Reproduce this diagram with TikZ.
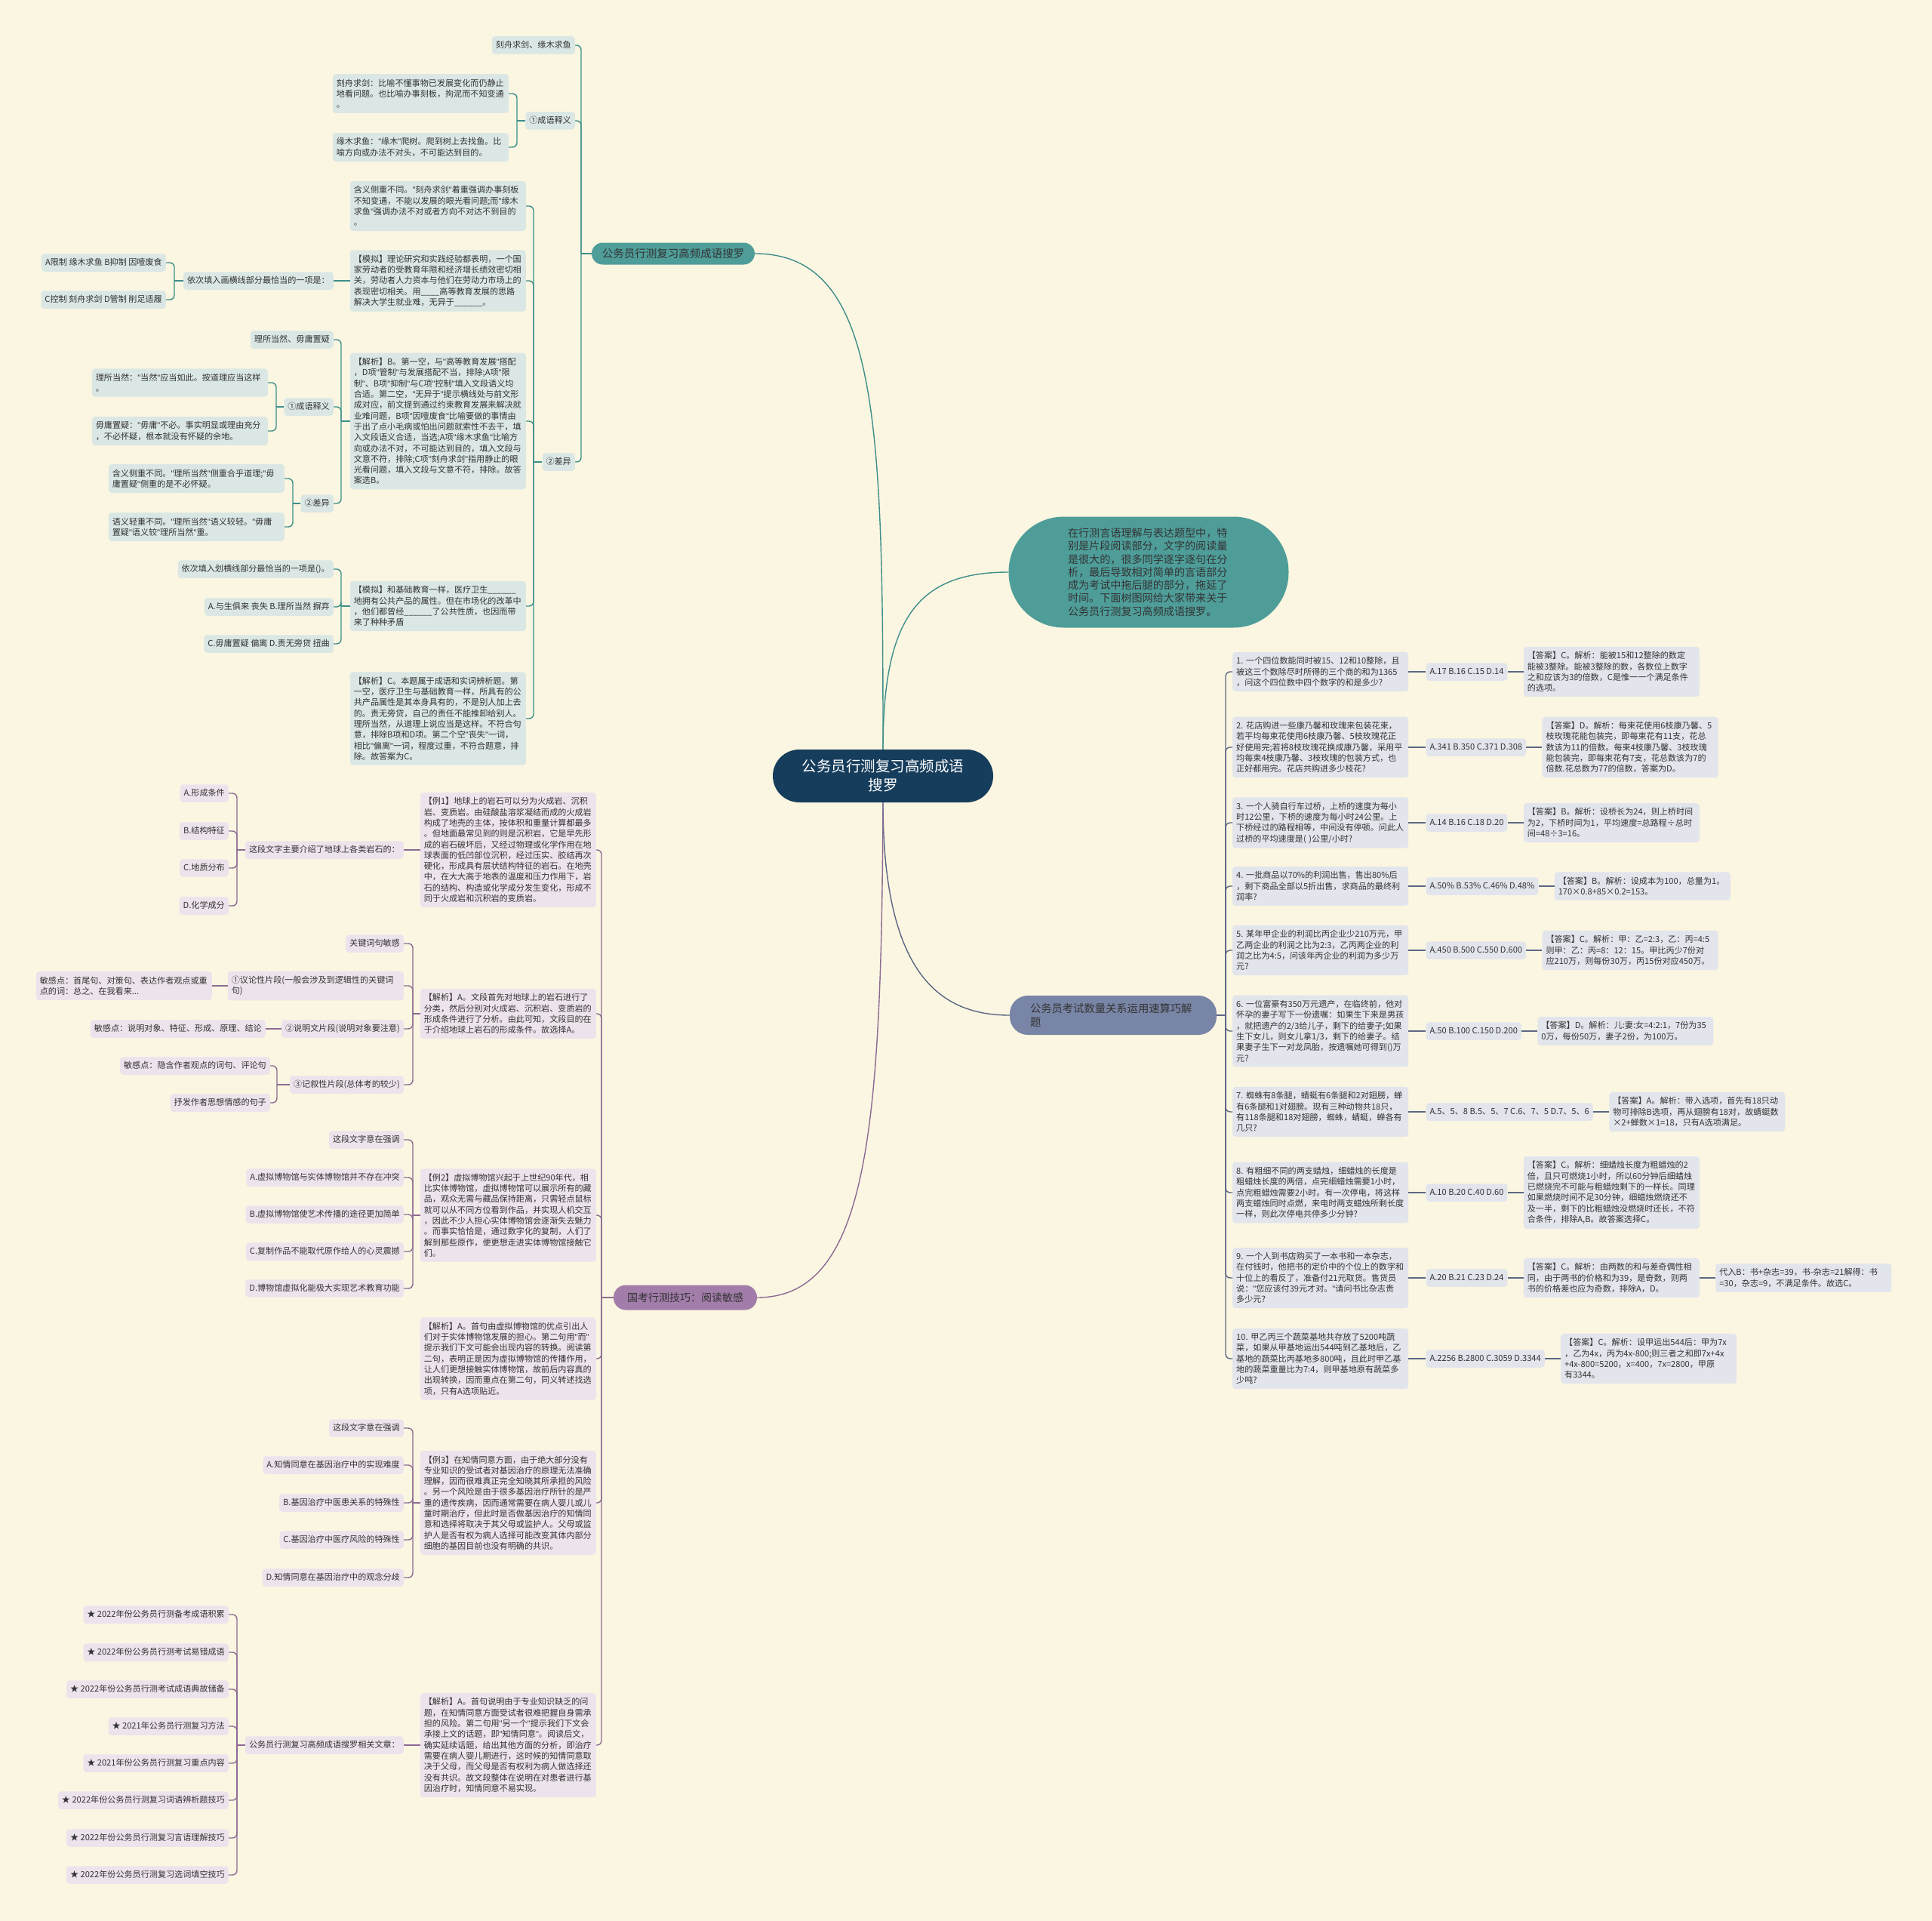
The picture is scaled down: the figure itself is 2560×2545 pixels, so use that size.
\documentclass[tikz,border=0pt]{standalone}
\usepackage{fontspec}
\setmainfont{Noto Sans CJK SC}
\newfontfamily\latf{Liberation Sans}
\newcommand\dq{{\latf"}}
\usetikzlibrary{positioning}
\definecolor{bg}{HTML}{FBF6E1}
\definecolor{txt}{HTML}{333333}
\definecolor{navy}{HTML}{173D5C}
\definecolor{tealM}{HTML}{4E9D99}
\definecolor{tealL}{HTML}{DAE7E5}
\definecolor{tealLn}{HTML}{3E8E8B}
\definecolor{purM}{HTML}{A27DAA}
\definecolor{purL}{HTML}{EDE3EC}
\definecolor{purLn}{HTML}{8C6A94}
\definecolor{slaM}{HTML}{7885A6}
\definecolor{slaL}{HTML}{E2E5EC}
\definecolor{slaLn}{HTML}{5B6784}
\tikzset{
 leaf/.style={font=\fontsize{11.1}{14.3}\selectfont, text=txt, inner xsep=5pt, inner ysep=5pt, rounded corners=4pt},
 tl/.style={leaf, fill=tealL},
 pl/.style={leaf, fill=purL},
 sl/.style={leaf, fill=slaL},
 wide/.style={text width=223pt, align=left, inner ysep=6.5pt},
 one/.style={text height=10pt, text depth=3.5pt},
 tln/.style={draw=tealLn, line width=1.4pt},
 pln/.style={draw=purLn, line width=1.4pt},
 sln/.style={draw=slaLn, line width=1.4pt},
}
\newcommand\brkL[4]{\coordinate (bxp) at (#3,0); \draw[#1] (#2.west) -- (#2.west -| bxp) coordinate (jn); \foreach \ch in {#4} {\draw[#1,rounded corners=6pt] (jn) |- (\ch.east);}}
\newcommand\brkR[4]{\coordinate (bxp) at (#3,0); \draw[#1] (#2.east) -- (#2.east -| bxp) coordinate (jn); \foreach \ch in {#4} {\draw[#1,rounded corners=6pt] (jn) |- (\ch.west);}}
\begin{document}
\begin{tikzpicture}[x=1pt,y=-1pt]
\useasboundingbox (0,0) rectangle (2560,2545);
\fill[bg] (0,0) rectangle (2560,2545);

% central and main branches
\node[fill=navy, text=white, font=\fontsize{19.5}{25}\selectfont, align=center, rounded corners=35pt, minimum width=292pt, minimum height=70pt, inner sep=0pt] (c) at (1170,1028) {公务员行测复习高频成语\\搜罗};
\node[fill=tealM, text=txt, font=\fontsize{14.5}{17}\selectfont, rounded corners=14.5pt, minimum width=216pt, minimum height=29pt, inner sep=0pt] (tb) at (892,336) {公务员行测复习高频成语搜罗};
\node[fill=tealM, text=txt, font=\fontsize{14.1}{17.3}\selectfont, text width=214pt, align=left, rounded corners=73pt, minimum width=371pt, minimum height=147pt] (tbig) at (1522,758) {在行测言语理解与表达题型中，特\\别是片段阅读部分，文字的阅读量\\是很大的，很多同学逐字逐句在分\\析，最后导致相对简单的言语部分\\成为考试中拖后腿的部分，拖延了\\时间。下面树图网给大家带来关于\\公务员行测复习高频成语搜罗。};
\node[fill=slaM, text=txt, font=\fontsize{14.3}{17.5}\selectfont, text width=220pt, align=left, rounded corners=24pt, minimum width=274pt, minimum height=52pt] (sb) at (1475,1345) {公务员考试数量关系运用速算巧解\\题};
\node[fill=purM, text=txt, font=\fontsize{14}{17}\selectfont, rounded corners=16pt, minimum width=190pt, minimum height=33pt, inner sep=0pt] (pb) at (908,1719) {国考行测技巧：阅读敏感};

\draw[tln] (c.north) .. controls (1170,560) and (1165,336) .. (tb.east);
\draw[tln] (c.north) .. controls (1170,820) and (1215,758) .. (tbig.west);
\draw[sln] (c.south) .. controls (1170,1290) and (1245,1345) .. (sb.west);
\draw[pln] (c.south) .. controls (1168,1500) and (1150,1719) .. (pb.east);

% ---------- teal branch ----------
\node[tl,one,anchor=east] (t1) at (762,60) {刻舟求剑、缘木求鱼};
\node[tl,one,anchor=east] (t2) at (762,160) {①成语释义};
\node[tl,one,anchor=east] (t3) at (762,612) {②差异};
\node[tl,wide,anchor=east] (t21) at (674,124) {刻舟求剑：比喻不懂事物已发展变化而仍静止\\地看问题。也比喻办事刻板，拘泥而不知变通\\。};
\node[tl,wide,anchor=east] (t22) at (674,195) {缘木求鱼：\dq{}缘木\dq{}爬树。爬到树上去找鱼。比\\喻方向或办法不对头，不可能达到目的。};
\node[tl,wide,anchor=east] (t31) at (697,273) {含义侧重不同。\dq{}刻舟求剑\dq{}着重强调办事刻板\\不知变通，不能以发展的眼光看问题;而\dq{}缘木\\求鱼\dq{}强调办法不对或者方向不对达不到目的\\。};
\node[tl,wide,anchor=east] (t32) at (697,372) {【模拟】理论研究和实践经验都表明，一个国\\家劳动者的受教育年限和经济增长绩效密切相\\关，劳动者人力资本与他们在劳动力市场上的\\表现密切相关。用\_\_\_\_高等教育发展的思路\\解决大学生就业难，无异于\_\_\_\_\_\_。};
\node[tl,wide,anchor=east] (t33) at (697,558) {【解析】B。第一空，与\dq{}高等教育发展\dq{}搭配\\，D项\dq{}管制\dq{}与发展搭配不当，排除;A项\dq{}限\\制\dq{}、B项\dq{}抑制\dq{}与C项\dq{}控制\dq{}填入文段语义均\\合适。第二空，\dq{}无异于\dq{}提示横线处与前文形\\成对应，前文提到通过约束教育发展来解决就\\业难问题，B项\dq{}因噎废食\dq{}比喻要做的事情由\\于出了点小毛病或怕出问题就索性不去干，填\\入文段语义合适，当选;A项\dq{}缘木求鱼\dq{}比喻方\\向或办法不对，不可能达到目的，填入文段与\\文意不符，排除;C项\dq{}刻舟求剑\dq{}指用静止的眼\\光看问题，填入文段与文意不符，排除。故答\\案选B。};
\node[tl,wide,anchor=east] (t34) at (697,803) {【模拟】和基础教育一样，医疗卫生\_\_\_\_\_\_\\地拥有公共产品的属性。但在市场化的改革中\\，他们都曾经\_\_\_\_\_\_了公共性质，也因而带\\来了种种矛盾};
\node[tl,wide,anchor=east] (t35) at (697,952) {【解析】C。本题属于成语和实词辨析题。第\\一空，医疗卫生与基础教育一样，所具有的公\\共产品属性是其本身具有的，不是别人加上去\\的。责无旁贷，自己的责任不能推卸给别人。\\理所当然，从道理上说应当是这样。不符合句\\意，排除B项和D项。第二个空\dq{}丧失\dq{}一词，\\相比\dq{}偏离\dq{}一词，程度过重，不符合题意，排\\除。故答案为C。};
\node[tl,one,anchor=east] (t321) at (442,372) {依次填入画横线部分最恰当的一项是：};
\node[tl,one,anchor=east] (t3211) at (220,348) {A限制 缘木求鱼 B抑制 因噎废食};
\node[tl,one,anchor=east] (t3212) at (220,397) {C控制 刻舟求剑 D管制 削足适履};
\node[tl,one,anchor=east] (t331) at (442,450) {理所当然、毋庸置疑};
\node[tl,one,anchor=east] (t332) at (442,539) {①成语释义};
\node[tl,one,anchor=east] (t333) at (442,667) {②差异};
\node[tl,wide,anchor=east] (t3321) at (355,507) {理所当然：\dq{}当然\dq{}应当如此。按道理应当这样\\。};
\node[tl,wide,anchor=east] (t3322) at (355,571) {毋庸置疑：\dq{}毋庸\dq{}不必。事实明显或理由充分\\，不必怀疑，根本就没有怀疑的余地。};
\node[tl,wide,anchor=east] (t3331) at (377,634) {含义侧重不同。\dq{}理所当然\dq{}侧重合乎道理;\dq{}毋\\庸置疑\dq{}侧重的是不必怀疑。};
\node[tl,wide,anchor=east] (t3332) at (377,698) {语义轻重不同。\dq{}理所当然\dq{}语义较轻。\dq{}毋庸\\置疑\dq{}语义较\dq{}理所当然\dq{}重。};
\node[tl,one,anchor=east] (t341) at (442,754) {依次填入划横线部分最恰当的一项是()。};
\node[tl,one,anchor=east] (t342) at (442,804) {A.与生俱来 丧失 B.理所当然 摒弃};
\node[tl,one,anchor=east] (t343) at (442,853) {C.毋庸置疑 偏离 D.责无旁贷 扭曲};

\brkL{tln}{tb}{770}{t1,t2,t3}
\brkL{tln}{t2}{685}{t21,t22}
\brkL{tln}{t3}{707}{t31,t32,t33,t34,t35}
\draw[tln] (t32.west) -- (t321.east);
\brkL{tln}{t321}{231}{t3211,t3212}
\brkL{tln}{t33}{452}{t331,t332,t333}
\brkL{tln}{t332}{366}{t3321,t3322}
\brkL{tln}{t333}{388}{t3331,t3332}
\brkL{tln}{t34}{452}{t341,t342,t343}

% ---------- purple branch ----------
\node[pl,wide,anchor=east] (p1) at (790,1126) {【例1】地球上的岩石可以分为火成岩、沉积\\岩、变质岩。由硅酸盐溶浆凝结而成的火成岩\\构成了地壳的主体，按体积和重量计算都最多\\。但地面最常见到的则是沉积岩，它是早先形\\成的岩石破坏后，又经过物理或化学作用在地\\球表面的低凹部位沉积，经过压实、胶结再次\\硬化，形成具有层状结构特征的岩石。在地壳\\中，在大大高于地表的温度和压力作用下，岩\\石的结构、构造或化学成分发生变化，形成不\\同于火成岩和沉积岩的变质岩。};
\node[pl,wide,anchor=east] (p2) at (790,1343) {【解析】A。文段首先对地球上的岩石进行了\\分类，然后分别对火成岩、沉积岩、变质岩的\\形成条件进行了分析。由此可知，文段目的在\\于介绍地球上岩石的形成条件。故选择A。};
\node[pl,wide,anchor=east] (p3) at (790,1610) {【例2】虚拟博物馆兴起于上世纪90年代，相\\比实体博物馆，虚拟博物馆可以展示所有的藏\\品，观众无需与藏品保持距离，只需轻点鼠标\\就可以从不同方位看到作品，并实现人机交互\\，因此不少人担心实体博物馆会逐渐失去魅力\\。而事实恰恰是，通过数字化的复制，人们了\\解到那些原作，便更想走进实体博物馆接触它\\们。};
\node[pl,wide,anchor=east] (p4) at (790,1800) {【解析】A。首句由虚拟博物馆的优点引出人\\们对于实体博物馆发展的担心。第二句用\dq{}而\dq{}\\提示我们下文可能会出现内容的转换。阅读第\\二句，表明正是因为虚拟博物馆的传播作用，\\让人们更想接触实体博物馆，故前后内容真的\\出现转换，因而重点在第二句，同义转述找选\\项，只有A选项贴近。};
\node[pl,wide,anchor=east] (p5) at (790,1991) {【例3】在知情同意方面，由于绝大部分没有\\专业知识的受试者对基因治疗的原理无法准确\\理解，因而很难真正完全知晓其所承担的风险\\。另一个风险是由于很多基因治疗所针的是严\\重的遗传疾病，因而通常需要在病人婴儿或儿\\童时期治疗，但此时是否做基因治疗的知情同\\意和选择将取决于其父母或监护人。父母或监\\护人是否有权为病人选择可能改变其体内部分\\细胞的基因目前也没有明确的共识。};
\node[pl,wide,anchor=east] (p6) at (790,2312) {【解析】A。首句说明由于专业知识缺乏的问\\题，在知情同意方面受试者很难把握自身需承\\担的风险。第二句用\dq{}另一个\dq{}提示我们下文会\\承接上文的话题，即\dq{}知情同意\dq{}。阅读后文，\\确实延续话题，给出其他方面的分析，即治疗\\需要在病人婴儿期进行，这时候的知情同意取\\决于父母，而父母是否有权利为病人做选择还\\没有共识。故文段整体在说明在对患者进行基\\因治疗时，知情同意不易实现。};

\node[pl,one,anchor=east] (p11) at (535,1126) {这段文字主要介绍了地球上各类岩石的：};
\node[pl,one,anchor=east] (p111) at (303,1051) {A.形成条件};
\node[pl,one,anchor=east] (p112) at (303,1101) {B.结构特征};
\node[pl,one,anchor=east] (p113) at (303,1150) {C.地质分布};
\node[pl,one,anchor=east] (p114) at (303,1200) {D.化学成分};

\node[pl,one,anchor=east] (p21) at (535,1250) {关键词句敏感};
\node[pl,wide,anchor=east] (p22) at (535,1306) {①议论性片段(一般会涉及到逻辑性的关键词\\句)};
\node[pl,wide,anchor=east] (p221) at (281,1306) {敏感点：首尾句、对策句、表达作者观点或重\\点的词：总之、在我看来...};
\node[pl,one,anchor=east] (p23) at (535,1363) {②说明文片段(说明对象要注意)};
\node[pl,one,anchor=east] (p231) at (352,1363) {敏感点：说明对象、特征、形成、原理、结论};
\node[pl,one,anchor=east] (p24) at (535,1437) {③记叙性片段(总体考的较少)};
\node[pl,one,anchor=east] (p241) at (358,1412) {敏感点：隐含作者观点的词句、评论句};
\node[pl,one,anchor=east] (p242) at (358,1461) {抒发作者思想情感的句子};

\node[pl,one,anchor=east] (p31) at (535,1510) {这段文字意在强调};
\node[pl,one,anchor=east] (p32) at (535,1560) {A.虚拟博物馆与实体博物馆并不存在冲突};
\node[pl,one,anchor=east] (p33) at (535,1609) {B.虚拟博物馆使艺术传播的途径更加简单};
\node[pl,one,anchor=east] (p34) at (535,1658) {C.复制作品不能取代原作给人的心灵震撼};
\node[pl,one,anchor=east] (p35) at (535,1707) {D.博物馆虚拟化能极大实现艺术教育功能};

\node[pl,one,anchor=east] (p51) at (535,1892) {这段文字意在强调};
\node[pl,one,anchor=east] (p52) at (535,1941) {A.知情同意在基因治疗中的实现难度};
\node[pl,one,anchor=east] (p53) at (535,1991) {B.基因治疗中医患关系的特殊性};
\node[pl,one,anchor=east] (p54) at (535,2040) {C.基因治疗中医疗风险的特殊性};
\node[pl,one,anchor=east] (p55) at (535,2090) {D.知情同意在基因治疗中的观念分歧};

\node[pl,one,anchor=east] (p61) at (535,2312) {公务员行测复习高频成语搜罗相关文章：};
\node[pl,one,anchor=east] (p611) at (303,2139) {★ 2022年份公务员行测备考成语积累};
\node[pl,one,anchor=east] (p612) at (303,2189) {★ 2022年份公务员行测考试易错成语};
\node[pl,one,anchor=east] (p613) at (303,2238) {★ 2022年份公务员行测考试成语典故储备};
\node[pl,one,anchor=east] (p614) at (303,2287) {★ 2021年公务员行测复习方法};
\node[pl,one,anchor=east] (p615) at (303,2336) {★ 2021年份公务员行测复习重点内容};
\node[pl,one,anchor=east] (p616) at (303,2385) {★ 2022年份公务员行测复习词语辨析题技巧};
\node[pl,one,anchor=east] (p617) at (303,2435) {★ 2022年份公务员行测复习言语理解技巧};
\node[pl,one,anchor=east] (p618) at (303,2484) {★ 2022年份公务员行测复习选词填空技巧};

\brkL{pln}{pb}{797}{p1,p2,p3,p4,p5,p6}
\draw[pln] (p1.west) -- (p11.east);
\brkL{pln}{p11}{314}{p111,p112,p113,p114}
\brkL{pln}{p2}{547}{p21,p22,p23,p24}
\draw[pln] (p22.west) -- (p221.east);
\draw[pln] (p23.west) -- (p231.east);
\brkL{pln}{p24}{367}{p241,p242}
\brkL{pln}{p3}{547}{p31,p32,p33,p34,p35}
\brkL{pln}{p5}{547}{p51,p52,p53,p54,p55}
\draw[pln] (p6.west) -- (p61.east);
\brkL{pln}{p61}{314}{p611,p612,p613,p614,p615,p616,p617,p618}

% ---------- slate branch ----------
\node[sl,wide,anchor=west] (q1) at (1633,890) {1.~一个四位数能同时被15、12和10整除，且\\被这三个数除尽时所得的三个商的和为1365\\，问这个四位数中四个数字的和是多少?};
\node[sl,wide,anchor=west] (q2) at (1633,990) {2.~花店购进一些康乃馨和玫瑰来包装花束，\\若平均每束花使用6枝康乃馨、5枝玫瑰花正\\好使用完;若将8枝玫瑰花换成康乃馨，采用平\\均每束4枝康乃馨、3枝玫瑰的包装方式，也\\正好都用完。花店共购进多少枝花?};
\node[sl,wide,anchor=west] (q3) at (1633,1090) {3.~一个人骑自行车过桥，上桥的速度为每小\\时12公里，下桥的速度为每小时24公里。上\\下桥经过的路程相等，中间没有停顿。问此人\\过桥的平均速度是(~)公里/小时?};
\node[sl,wide,anchor=west] (q4) at (1633,1174) {4.~一批商品以70\%的利润出售，售出80\%后\\，剩下商品全部以5折出售，求商品的最终利\\润率?};
\node[sl,wide,anchor=west] (q5) at (1633,1259) {5.~某年甲企业的利润比丙企业少210万元，甲\\乙两企业的利润之比为2:3，乙丙两企业的利\\润之比为4:5，问该年丙企业的利润为多少万\\元?};
\node[sl,wide,anchor=west] (q6) at (1633,1366) {6.~一位富豪有350万元遗产，在临终前，他对\\怀孕的妻子写下一份遗嘱：如果生下来是男孩\\，就把遗产的2/3给儿子，剩下的给妻子;如果\\生下女儿，则女儿拿1/3，剩下的给妻子。结\\果妻子生下一对龙凤胎，按遗嘱她可得到()万\\元?};
\node[sl,wide,anchor=west] (q7) at (1633,1473) {7.~蜘蛛有8条腿，蜻蜓有6条腿和2对翅膀，蝉\\有6条腿和1对翅膀。现有三种动物共18只，\\有118条腿和18对翅膀，蜘蛛，蜻蜓，蝉各有\\几只?};
\node[sl,wide,anchor=west] (q8) at (1633,1580) {8.~有粗细不同的两支蜡烛，细蜡烛的长度是\\粗蜡烛长度的两倍，点完细蜡烛需要1小时，\\点完粗蜡烛需要2小时。有一次停电，将这样\\两支蜡烛同时点燃，来电时两支蜡烛所剩长度\\一样，则此次停电共停多少分钟?};
\node[sl,wide,anchor=west] (q9) at (1633,1693) {9.~一个人到书店购买了一本书和一本杂志，\\在付钱时，他把书的定价中的个位上的数字和\\十位上的看反了，准备付21元取货。售货员\\说：\dq{}您应该付39元才对。\dq{}请问书比杂志贵\\多少元?};
\node[sl,wide,anchor=west] (q10) at (1633,1800) {10.~甲乙丙三个蔬菜基地共存放了5200吨蔬\\菜，如果从甲基地运出544吨到乙基地后，乙\\基地的蔬菜比丙基地多800吨，且此时甲乙基\\地的蔬菜重量比为7:4，则甲基地原有蔬菜多\\少吨?};

\node[sl,one,right=23pt of q1] (o1) {A.17 B.16 C.15 D.14};
\node[sl,one,right=23pt of q2] (o2) {A.341 B.350 C.371 D.308};
\node[sl,one,right=23pt of q3] (o3) {A.14 B.16 C.18 D.20};
\node[sl,one,right=23pt of q4] (o4) {A.50\% B.53\% C.46\% D.48\%};
\node[sl,one,right=23pt of q5] (o5) {A.450 B.500 C.550 D.600};
\node[sl,one,right=23pt of q6] (o6) {A.50 B.100 C.150 D.200};
\node[sl,one,right=23pt of q7] (o7) {A.5、5、8 B.5、5、7 C.6、7、5 D.7、5、6};
\node[sl,one,right=23pt of q8] (o8) {A.10 B.20 C.40 D.60};
\node[sl,one,right=23pt of q9] (o9) {A.20 B.21 C.23 D.24};
\node[sl,one,right=23pt of q10] (o10) {A.2256 B.2800 C.3059 D.3344};

\node[sl,wide,right=21pt of o1] (a1) {【答案】C。解析：能被15和12整除的数定\\能被3整除。能被3整除的数，各数位上数字\\之和应该为3的倍数，C是惟一一个满足条件\\的选项。};
\node[sl,wide,right=21pt of o2] (a2) {【答案】D。解析：每束花使用6枝康乃馨、5\\枝玫瑰花能包装完，即每束花有11支，花总\\数该为11的倍数。每束4枝康乃馨、3枝玫瑰\\能包装完，即每束花有7支，花总数该为7的\\倍数.花总数为77的倍数，答案为D。};
\node[sl,wide,right=21pt of o3] (a3) {【答案】B。解析：设桥长为24，则上桥时间\\为2，下桥时间为1，平均速度=总路程÷总时\\间=48÷3=16。};
\node[sl,wide,right=21pt of o4] (a4) {【答案】B。解析：设成本为100，总量为1。\\170×0.8+85×0.2=153。};
\node[sl,wide,right=21pt of o5] (a5) {【答案】C。解析：甲：乙=2:3，乙：丙=4:5\\则甲：乙：丙=8：12：15。甲比丙少7份对\\应210万，则每份30万，丙15份对应450万。};
\node[sl,wide,right=21pt of o6] (a6) {【答案】D。解析：儿:妻:女=4:2:1，7份为35\\0万，每份50万，妻子2份，为100万。};
\node[sl,wide,right=21pt of o7] (a7) {【答案】A。解析：带入选项，首先有18只动\\物可排除B选项，再从翅膀有18对，故蜻蜓数\\×2+蝉数×1=18，只有A选项满足。};
\node[sl,wide,right=21pt of o8] (a8) {【答案】C。解析：细蜡烛长度为粗蜡烛的2\\倍，且只可燃烧1小时，所以60分钟后细蜡烛\\已燃烧完不可能与粗蜡烛剩下的一样长。同理\\如果燃烧时间不足30分钟，细蜡烛燃烧还不\\及一半，剩下的比粗蜡烛没燃烧时还长，不符\\合条件，排除A,B。故答案选择C。};
\node[sl,wide,right=21pt of o9] (a9) {【答案】C。解析：由两数的和与差奇偶性相\\同，由于两书的价格和为39，是奇数，则两\\书的价格差也应为奇数，排除A，D。};
\node[sl,wide,right=21pt of a9] (a9b) {代入B：书+杂志=39，书-杂志=21解得：书\\=30，杂志=9，不满足条件。故选C。};
\node[sl,wide,right=21pt of o10] (a10) {【答案】C。解析：设甲运出544后：甲为7x\\，乙为4x，丙为4x-800;则三者之和即7x+4x\\+4x-800=5200，x=400，7x=2800，甲原\\有3344。};

\brkR{sln}{sb}{1624}{q1,q2,q3,q4,q5,q6,q7,q8,q9,q10}
\foreach \k in {1,...,10} {
  \draw[sln] (q\k.east) -- (o\k.west);
  \draw[sln] (o\k.east) -- (a\k.west);
}
\draw[sln] (a9.east) -- (a9b.west);
\end{tikzpicture}
\end{document}
